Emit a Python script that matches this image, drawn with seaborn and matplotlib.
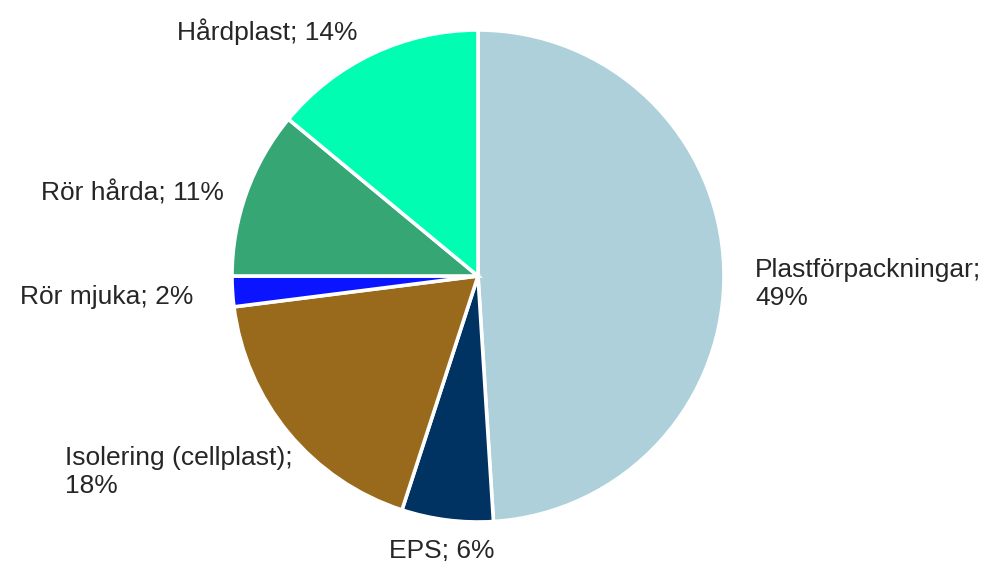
import matplotlib
matplotlib.use("Agg")
import matplotlib.pyplot as plt
import seaborn as sns
import numpy as np

categories = ["Plastförpackningar", "EPS", "Isolering (cellplast)", "Rör mjuka", "Rör hårda", "Hårdplast"]
values = [49, 6, 18, 2, 11, 14]
label_texts = ["Plastförpackningar;\n49%", "EPS; 6%", "Isolering (cellplast);\n18%",
               "Rör mjuka; 2%", "Rör hårda; 11%", "Hårdplast; 14%"]
colors = ["#ADD0DB", "#003262", "#996A1B", "#0A14FF", "#35A674", "#00FDB2"]

# label placement (style): position in pie-radius units and alignment
label_pos = [(1.126, -0.033, "left"), (-0.146, -1.114, "center"), (-1.679, -0.797, "left"),
             (-1.159, -0.085, "right"), (-1.033, 0.337, "right"), (-0.488, 0.992, "right")]

sns.set_theme(style="white")
plt.rcParams['font.family'] = ['Liberation Sans', 'DejaVu Sans']

fig = plt.figure(figsize=(10.02, 5.61), dpi=100)
ax = fig.add_axes([(478 - 246) / 1002, (561 - 276 - 246) / 561, 492 / 1002, 492 / 561])
wedges, _ = ax.pie(values, colors=colors, startangle=90, counterclock=False,
                   wedgeprops=dict(edgecolor="white", linewidth=2.6), radius=1)
ax.set_xlim(-1, 1)
ax.set_ylim(-1, 1)
ax.set_aspect("auto")
ax.axis("off")

for txt, (x, y, ha) in zip(label_texts, label_pos):
    ax.text(x, y, txt, ha=ha, va="center", fontsize=19, color="#262626",
            linespacing=1.25, clip_on=False)

fig.savefig("out.png", dpi=100, facecolor="white")
